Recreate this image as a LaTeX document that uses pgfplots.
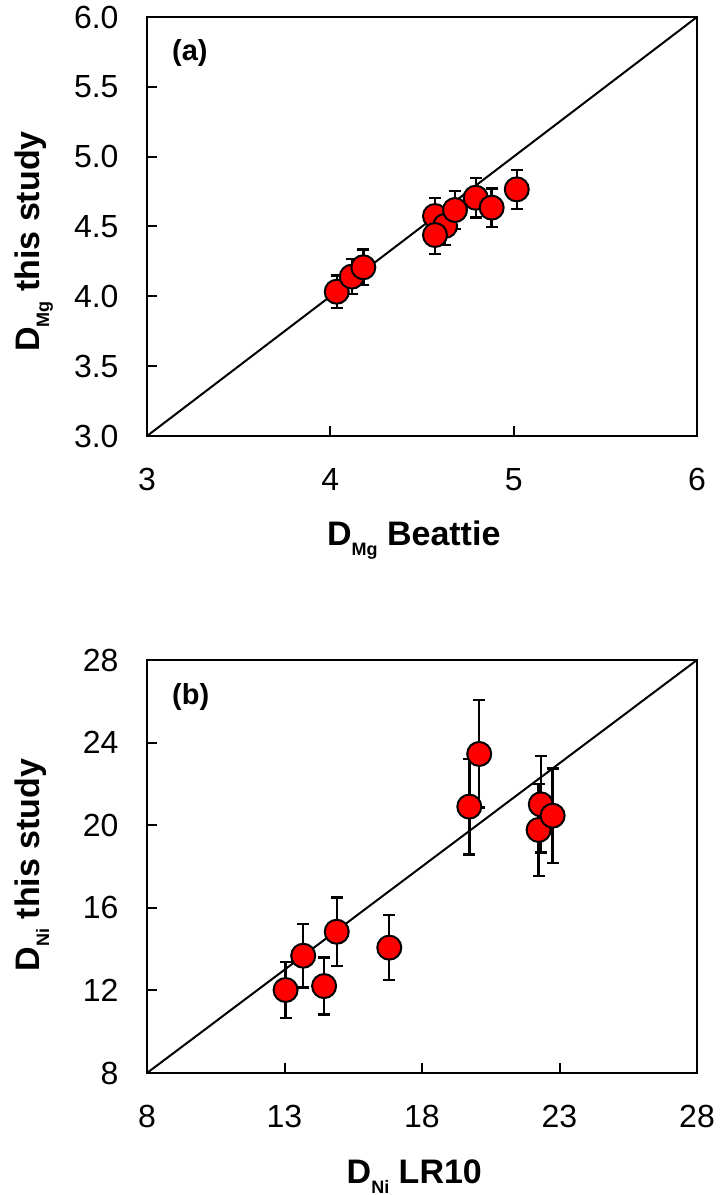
\documentclass[border=0pt]{standalone}
\usepackage{pgfplots}
\pgfplotsset{compat=1.18}
\usepackage{pgfplotstable}
\usepackage{fontspec}
\setmainfont{Liberation Sans}

% D_Mg: Beattie vs this study
\pgfplotstableread{
x      y      ey
4.035  4.033  0.116
4.117  4.141  0.125
4.180  4.208  0.126
4.571  4.575  0.130
4.626  4.504  0.137
4.571  4.439  0.134
4.680  4.618  0.137
4.793  4.706  0.143
4.880  4.635  0.138
5.017  4.766  0.140
}\mgdata

% D_Ni: LR10 vs this study
\pgfplotstableread{
x      y      ey
13.04  12.02  1.36
13.68  13.68  1.54
14.44  12.21  1.38
14.90  14.84  1.66
16.81  14.07  1.58
19.72  20.90  2.32
20.08  23.45  2.60
22.32  21.01  2.33
22.24  19.77  2.22
22.75  20.46  2.29
}\nidata

\pgfplotsset{
  panel/.style={
    scale only axis, width=275pt, anchor=south west,
    axis line style={line width=1pt},
    tick align=inside, xtick pos=bottom, ytick pos=left,
    major tick length=5pt, tick style={line width=1pt, black},
    ticklabel style={font=\fontsize{16}{19}\selectfont},
    /pgf/number format/assume math mode=true,
    xticklabel style={yshift=-12.5pt},
    yticklabel style={xshift=-10.7pt},
    xlabel style={anchor=north, inner sep=0pt,
      font=\fontsize{17}{20}\selectfont\bfseries},
    ylabel style={anchor=north, inner sep=0pt,
      font=\fontsize{17}{20}\selectfont\bfseries},
  },
  pts/.style={only marks, mark=*, mark size=6pt,
    mark options={fill=red, draw=black, line width=1pt},
    error bars/.cd, y dir=both, y explicit,
    error bar style={line width=1.2pt, black},
    error mark options={rotate=90, mark size=3pt, line width=1.2pt, black}},
}
\newcommand{\sub}[1]{\raisebox{-5pt}{\fontsize{9}{9}\selectfont #1}}

\begin{document}
\begin{tikzpicture}
\path[use as bounding box] (0pt,0pt) rectangle (359.5pt,597.5pt);

\begin{axis}[panel, at={(73.5pt,379.5pt)}, height=209.5pt,
  xmin=3, xmax=6, ymin=3, ymax=6,
  xtick={3,4,5,6}, ytick={3,3.5,...,6},
  yticklabel style={/pgf/number format/.cd, fixed, fixed zerofill, precision=1},
  xlabel={D\sub{Mg} Beattie},
  ylabel={D\sub{Mg} this study},
  xlabel style={at={(axis description cs:0.485,-0.2017)}},
  ylabel style={at={(axis description cs:-0.2418,0.464)}},
]
\addplot[black, line width=1pt] coordinates {(3,3) (6,6)};
\addplot[pts] table[x=x, y=y, y error=ey] {\mgdata};
\node[anchor=north west, inner sep=0pt, font=\fontsize{14.5}{17}\selectfont\bfseries]
  at (rel axis cs:0.045,0.947) {(a)};
\end{axis}

\begin{axis}[panel, at={(73.5pt,61pt)}, height=206.5pt,
  xmin=8, xmax=28, ymin=8, ymax=28,
  xtick={8,13,18,23,28}, ytick={8,12,...,28},
  xlabel={D\sub{Ni} LR10},
  ylabel={D\sub{Ni} this study},
  xlabel style={at={(axis description cs:0.486,-0.208)}},
  ylabel style={at={(axis description cs:-0.2418,0.504)}},
]
\addplot[black, line width=1pt] coordinates {(8,8) (28,28)};
\addplot[pts] table[x=x, y=y, y error=ey] {\nidata};
\node[anchor=north west, inner sep=0pt, font=\fontsize{14.5}{17}\selectfont\bfseries]
  at (rel axis cs:0.045,0.944) {(b)};
\end{axis}
\end{tikzpicture}
\end{document}
